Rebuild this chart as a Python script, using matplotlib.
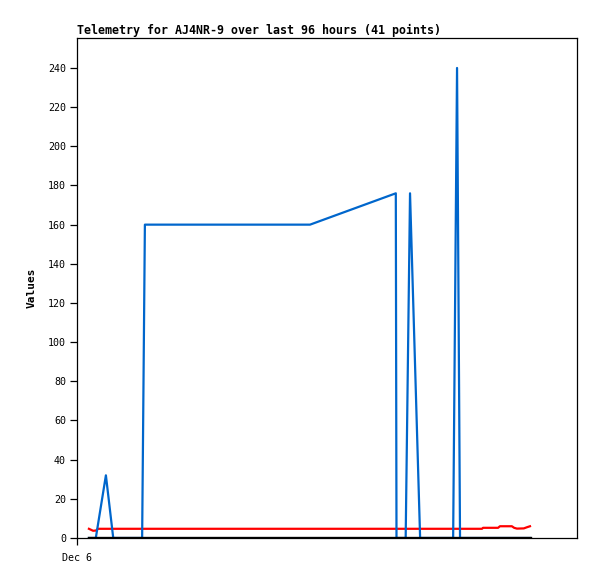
import matplotlib
matplotlib.use('Agg')
import matplotlib.pyplot as plt

# hours since Dec 6 00:00
blue_hours = [2.6, 4.1, 6.3, 7.9, 14.2, 14.8, 50.8, 69.5, 69.65, 71.65, 72.6, 74.8, 82.0, 82.85, 83.5, 98.75]
blue_values = [0, 0, 32, 0, 0, 160, 160, 176, 0, 0, 176, 0, 0, 240, 0, 0]

red_hours = [2.6, 3.5, 4.1, 4.6, 88.3, 88.5, 91.8, 92.2, 94.8, 95.3, 95.9, 97.4, 98.1, 98.75]
red_values = [4.7, 3.7, 3.8, 4.7, 4.7, 5.2, 5.2, 6.0, 6.0, 5.2, 4.8, 4.9, 5.5, 6.0]

black_hours = [2.6, 98.75]
black_values = [0, 0]

y_ticks = list(range(0, 241, 20))
x_tick_pos = [0]
x_tick_labels = ['Dec 6']

mono = 'DejaVu Sans Mono'

fig = plt.figure(figsize=(5.97, 5.79), dpi=100)
ax = fig.add_axes([77 / 597, 41 / 579, 500 / 597, 500 / 579])

ax.plot(red_hours, red_values, color='#ff0000', lw=1.6)
ax.plot(blue_hours, blue_values, color='#0066cc', lw=1.6)
ax.plot(black_hours, black_values, color='black', lw=2.4)

ax.set_xlim(0, 109)
ax.set_ylim(0, 255.3)
ax.set_yticks(y_ticks)
ax.set_xticks(x_tick_pos)
ax.set_xticklabels(x_tick_labels)
for lbl in ax.get_xticklabels() + ax.get_yticklabels():
    lbl.set_family(mono)
    lbl.set_fontsize(7.2)
ax.tick_params(direction='out', length=5, width=0.9, pad=3)
ax.tick_params(axis='x', pad=6)

for s in ax.spines.values():
    s.set_linewidth(0.9)

ax.set_ylabel('Values', family=mono, fontsize=8, fontweight='bold', labelpad=8)
ax.set_title('Telemetry for AJ4NR-9 over last 96 hours (41 points)',
             family=mono, fontsize=8.35, fontweight='bold', loc='left', pad=3)

fig.savefig('out.png', dpi=100)
